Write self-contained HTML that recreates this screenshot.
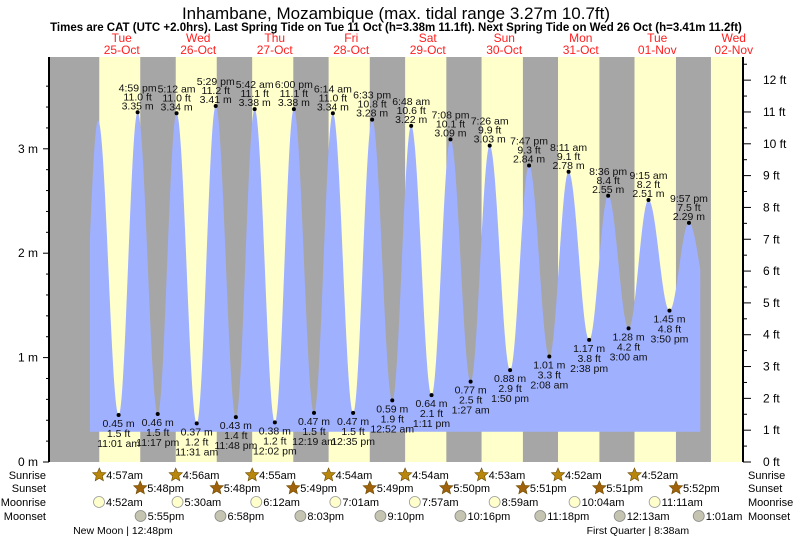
<!DOCTYPE html>
<html><head><meta charset="utf-8"><style>
html,body{margin:0;padding:0;background:#fff;}
svg{display:block;font-family:"Liberation Sans",Arial,sans-serif;}
</style></head><body>
<svg id="chart" width="793" height="539" viewBox="0 0 793 539" xmlns="http://www.w3.org/2000/svg">
<text x="396" y="19" font-size="17" text-anchor="middle" fill="#000">Inhambane, Mozambique (max. tidal range 3.27m 10.7ft)</text>
<text x="396" y="31" font-size="11.5" font-weight="bold" text-anchor="middle" fill="#000">Times are CAT (UTC +2.0hrs). Last Spring Tide on Tue 11 Oct (h=3.38m 11.1ft). Next Spring Tide on Wed 26 Oct (h=3.41m 11.2ft)</text>
<g id="bands"></g>
<g id="water"></g>
<g id="axes"></g>
<g id="labels"></g>
<g id="days"></g>
<g id="astro"></g>
</svg>
<script>
// ---- data ----
const dayNames = ["Tue","Wed","Thu","Fri","Sat","Sun","Mon","Tue","Wed"];
const dayDates = ["25-Oct","26-Oct","27-Oct","28-Oct","29-Oct","30-Oct","31-Oct","01-Nov","02-Nov"];
const extDay = [-1,0,0,0,0,1,1,1,1,2,2,2,3,3,3,3,4,4,4,4,5,5,5,5,6,6,6,6,7,7,7,7,8];
const extTime = ["10:45 pm","4:35 am","11:01 am","4:59 pm","11:17 pm","5:12 am","11:31 am","5:29 pm","11:48 pm","5:42 am","12:02 pm","6:00 pm","12:19 am","6:14 am","12:35 pm","6:33 pm","12:52 am","6:48 am","1:11 pm","7:08 pm","1:27 am","7:26 am","1:50 pm","7:47 pm","2:08 am","8:11 am","2:38 pm","8:36 pm","3:00 am","9:15 am","3:50 pm","9:57 pm","4:30 am"];
const extHeight = [0.50,3.27,0.45,3.35,0.46,3.34,0.37,3.41,0.43,3.38,0.38,3.38,0.47,3.34,0.47,3.28,0.59,3.22,0.64,3.09,0.77,3.03,0.88,2.84,1.01,2.78,1.17,2.55,1.28,2.51,1.45,2.29,1.50];
const extLabeled = [0,0,1,1,1,1,1,1,1,1,1,1,1,1,1,1,1,1,1,1,1,1,1,1,1,1,1,1,1,1,1,1,0];
const sunrise = ["4:57 am","4:56 am","4:55 am","4:54 am","4:54 am","4:53 am","4:52 am","4:52 am","4:51 am"];
const sunset = ["5:48 pm","5:48 pm","5:49 pm","5:49 pm","5:50 pm","5:51 pm","5:51 pm","5:52 pm"];
const moonriseDay = [0,1,2,3,4,5,6,7];
const moonrise = ["4:52 am","5:30 am","6:12 am","7:01 am","7:57 am","8:59 am","10:04 am","11:11 am"];
const moonsetDay = [0,1,2,3,4,5,7,8];
const moonset = ["5:55 pm","6:58 pm","8:03 pm","9:10 pm","10:16 pm","11:18 pm","12:13 am","1:01 am"];
const phaseName = ["New Moon","First Quarter"];
const phaseDay = [0,7];
const phaseTime = ["12:48 pm","8:38 am"];
const meterTicks = [0,1,2,3];
const feetTicks = [0,1,2,3,4,5,6,7,8,9,10,11,12];
const dataStart = 2.0, dataEnd = 193.5;

// ---- scales ----
const X0 = 83.5, PXD = 76.5, YB = 462, PXM = 104.4;
const PL = 49, PR = 743, PT = 57;
function hrs(s){const m=s.match(/(\d+):(\d+)\s*(am|pm)/);let h=+m[1]%12;if(m[3]=="pm")h+=12;return h+ +m[2]/60;}
function xOf(day,t){return X0+(day*24+hrs(t))*PXD/24;}
function xH(h){return X0+h*PXD/24;}
function yM(m){return YB-m*PXM;}
function shortT(t){return t.replace(" ","");}
const NS="http://www.w3.org/2000/svg";
function mk(tag,attrs,parent){const e=document.createElementNS(NS,tag);for(const k in attrs)e.setAttribute(k,attrs[k]);parent.appendChild(e);return e;}

// ---- bands ----
const bands=document.getElementById('bands');
let r=mk('rect',{x:PL,y:PT,width:PR-PL,height:YB-PT,fill:'#a6a6a6'},bands);


for(let d=0;d<sunrise.length;d++){
  const x1=xOf(d,sunrise[d]);
  const x2=d<sunset.length?xOf(d,sunset[d]):PR;
  const b=mk('rect',{x:x1,y:PT,width:Math.min(x2,PR)-x1,height:YB-PT,fill:'#ffffcc'},bands);
  
  
}

// ---- tide curve ----
const eh=extDay.map((d,i)=>d*24+hrs(extTime[i]));
function level(h){
  for(let i=0;i<eh.length-1;i++){
    if(h>=eh[i]&&h<=eh[i+1]){const f=(h-eh[i])/(eh[i+1]-eh[i]);return extHeight[i]+(extHeight[i+1]-extHeight[i])*(1-Math.cos(Math.PI*f))/2;}
  }
  return extHeight[extHeight.length-1];
}
const floorM=0.29;
let pts=[[xH(dataStart),yM(floorM)]];
for(let h=dataStart;h<=dataEnd;h+=0.05)pts.push([xH(h),yM(level(h))]);
pts.push([xH(dataEnd),yM(level(dataEnd))]);
pts.push([xH(dataEnd),yM(floorM)]);
const water=document.getElementById('water');
const poly=mk('polygon',{points:pts.map(p=>p[0].toFixed(2)+','+p[1].toFixed(2)).join(' '),fill:'#9fb0ff'},water);



// ---- labels ----
const lab=document.getElementById('labels');
for(let i=0;i<eh.length;i++){
  if(!extLabeled[i])continue;
  const x=xH(eh[i]),y=yM(extHeight[i]);
  const isHigh=extHeight[i]>level(eh[i]+0.5);
  const dot=mk('circle',{cx:x,cy:y,r:2,fill:'#000'},lab);
  
  
  const ft=(extHeight[i]*3.28084).toFixed(1)+' ft', m=extHeight[i].toFixed(2)+' m', t=extTime[i];
  const lines=isHigh?[t,ft,m]:[m,ft,t];
  const offs=isHigh?[-21,-12,-3]:[12,22,32];
  for(let k=0;k<3;k++){
    const tx=mk('text',{x:x,y:y+offs[k],'font-size':10.5,'text-anchor':'middle',fill:'#111'},lab);
    tx.textContent=lines[k];
    
    
  }
}

// ---- axes ----
const ax=document.getElementById('axes');
let l=mk('line',{x1:PL,y1:PT,x2:PL,y2:YB,stroke:'#000','stroke-width':2},ax);


l=mk('line',{x1:PR,y1:PT,x2:PR,y2:YB,stroke:'#000','stroke-width':2},ax);


for(let v=0;v<=3.8;v+=0.2){
  const y=yM(v);if(y<PT)break;
  const major=Math.abs(v-Math.round(v))<0.01;
  const t=mk('line',{x1:major?43:46,y1:y,x2:PL,y2:y,stroke:'#000'},ax);
  
  
}
meterTicks.forEach(v=>{
  const t=mk('text',{x:38,y:yM(v)+4,'font-size':12,'text-anchor':'end',fill:'#000'},ax);
  t.textContent=v+' m';
  
  
});
for(let f=0;f<=12.5;f+=0.5){
  const y=yM(f/3.28084);
  const major=f%1==0;
  const t=mk('line',{x1:PR,y1:y,x2:major?751:747,y2:y,stroke:'#000'},ax);
  
  
}
feetTicks.forEach(f=>{
  const t=mk('text',{x:763,y:yM(f/3.28084)+4,'font-size':12,fill:'#000'},ax);
  t.textContent=f+' ft';
  
  
});

// ---- day labels ----
const dg=document.getElementById('days');
dayNames.forEach((n,d)=>{
  const x=X0+d*PXD+PXD/2;
  let t=mk('text',{x:x,y:42,'font-size':12,'text-anchor':'middle',fill:'#ff2020'},dg);
  t.textContent=n;
  
  
  t=mk('text',{x:x,y:54,'font-size':12,'text-anchor':'middle',fill:'#ff2020'},dg);
  t.textContent=dayDates[d];
  
  
});

// ---- astro rows ----
const ag=document.getElementById('astro');
const rowNames=["Sunrise","Sunset","Moonrise","Moonset"], rowY=[479,492,506,520];
rowNames.forEach((n,i)=>{
  let t=mk('text',{x:46,y:rowY[i],'font-size':11,'text-anchor':'end',fill:'#000'},ag);
  t.textContent=n;
  
  
  t=mk('text',{x:748,y:rowY[i],'font-size':11,fill:'#000'},ag);
  t.textContent=n;
  
  
});
function star(cx,cy,fill){
  let p=[];for(let k=0;k<10;k++){const a=-Math.PI/2+k*Math.PI/5,rr=k%2?3.2:7;p.push((cx+rr*Math.cos(a)).toFixed(1)+','+(cy+rr*Math.sin(a)).toFixed(1));}
  return mk('polygon',{points:p.join(' '),fill:fill,stroke:'#6b4a00','stroke-width':0.6},ag);
}
function itemText(x,y,s,name){
  const t=mk('text',{x:x+7,y:y,'font-size':11,fill:'#000'},ag);
  t.textContent=s;
  
  
}
for(let d=0;d<8;d++){
  let x=xOf(d,sunrise[d]);
  let s=star(x,rowY[0]-4,'#b8860b');
  
  
  itemText(x,rowY[0],shortT(sunrise[d]),'sunrise-time');
  x=xOf(d,sunset[d]);
  s=star(x,rowY[1]-4,'#a0620a');
  
  
  itemText(x,rowY[1],shortT(sunset[d]),'sunset-time');
}
moonrise.forEach((m,i)=>{
  const x=xOf(moonriseDay[i],m);
  const c=mk('circle',{cx:x,cy:rowY[2]-4,r:5.5,fill:'#ffffcc',stroke:'#999','stroke-width':0.8},ag);
  
  
  itemText(x,rowY[2],shortT(m),'moonrise-time');
});
moonset.forEach((m,i)=>{
  const x=xOf(moonsetDay[i],m);
  const c=mk('circle',{cx:x,cy:rowY[3]-4,r:5.5,fill:'#c4c4b0',stroke:'#888','stroke-width':0.8},ag);
  
  
  itemText(x,rowY[3],shortT(m),'moonset-time');
});
phaseName.forEach((n,i)=>{
  const x=xOf(phaseDay[i],phaseTime[i]);
  const t=mk('text',{x:x,y:534,'font-size':10.5,fill:'#000'},ag);
  t.textContent=n+' | '+shortT(phaseTime[i]);
  
  
  const tmp=mk('text',{'font-size':10.5,x:0,y:-50},ag);tmp.textContent=n+' ';
  const off=tmp.getComputedTextLength();ag.removeChild(tmp);
  t.setAttribute('x',x-off-1);
});
</script>
</body></html>
